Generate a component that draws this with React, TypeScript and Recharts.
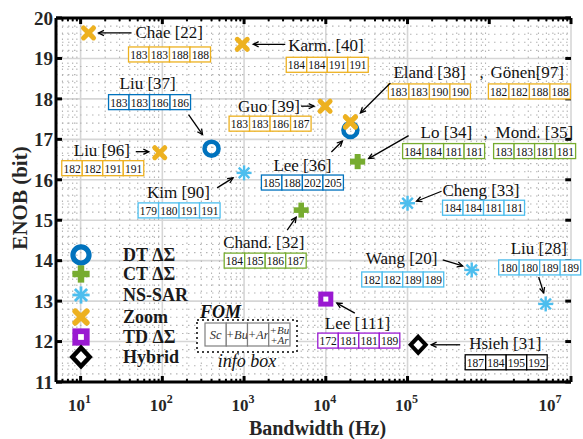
import {
  CartesianGrid,
  Label,
  Legend,
  ReferenceLine,
  Scatter,
  ScatterChart,
  XAxis,
  YAxis,
} from "recharts";

const SERIF = "Liberation Serif, Times New Roman, DejaVu Serif, serif";

// architecture classes, in legend order
const categories = ["DT ΔΣ", "CT ΔΣ", "NS-SAR", "Zoom", "TD ΔΣ", "Hybrid"];
const categoryColors = ["#0072BD", "#77AC30", "#4DBEEE", "#EDB120", "#9A19D1", "#000000"];

const designs = [
  "Chae [22]", "Karm. [40]", "Liu [37]", "Guo [39]", "Liu [96]", "Kim [90]",
  "Lee [36]", "Eland [38]", "Gönen[97]", "Lo [34]", "Mond. [35]", "Chand. [32]",
  "Cheng [33]", "Wang [20]", "Liu [28]", "Lee [111]", "Hsieh [31]",
];
const bandwidthHz = [
  12.5, 950, 400, 9800, 93, 1000, 20000, 20000, 20000, 24500, 24500, 5000,
  100000, 610000, 4.9e6, 10000, 135000,
];
const enobBits = [
  19.63, 19.35, 16.77, 17.82, 16.67, 16.17, 17.23, 17.43, 17.43, 16.45, 16.45, 15.25,
  15.42, 13.77, 12.93, 13.05, 11.92,
];
const designCategory = [3, 3, 0, 3, 3, 2, 0, 3, 3, 1, 1, 1, 2, 2, 2, 4, 5];

// FOM info box columns: Sc, +Bu, +Ar, +Bu+Ar
const fomSc = [183, 184, 183, 183, 182, 179, 185, 183, 182, 184, 183, 184, 184, 182, 180, 172, 187];
const fomBu = [183, 184, 183, 183, 182, 180, 188, 183, 182, 184, 183, 185, 184, 182, 180, 181, 184];
const fomAr = [188, 191, 186, 186, 191, 191, 202, 190, 188, 181, 181, 186, 181, 189, 189, 181, 195];
const fomBuAr = [188, 191, 186, 187, 191, 191, 205, 190, 188, 181, 181, 187, 181, 189, 189, 189, 192];

const xTicks = [10, 100, 1e3, 1e4, 1e5, 1e6, 1e7];
const yTicks = [11, 12, 13, 14, 15, 16, 17, 18, 19, 20];

// annotation placement, pixel offsets from the marker
type Note = { t: number[]; b: number[]; a?: number[]; c?: number[] };
const noteLayout: Note[] = [
  { t: [47, 0], b: [40, 14], a: [43, 0, 10, 0] },
  { t: [46, 1], b: [44, 13], a: [43, 0, 11, 0] },
  { t: [-92, -65], b: [-103, -54], a: [-23, -34, -9, -14] },
  { t: [-87, 0], b: [-96, 10], a: [-24, 0, -11, 0] },
  { t: [-86, -2], b: [-98, 8], a: [-24, -1, -11, -1] },
  { t: [-97, 20], b: [-106, 30], a: [-27, 15, -11, 5] },
  { t: [-77, 35], b: [-89, 45], a: [-19, 22, -8, 11] },
  { t: [43, -49], b: [38, -38], a: [40, -39, 10, -9], c: [129, -49] },
  { t: [140, -49], b: [138, -38] },
  { t: [63, -29], b: [45, -18], a: [51, -26, 11, -3], c: [126, -29] },
  { t: [138, -29], b: [136, -18] },
  { t: [-78, 32], b: [-77, 43], a: [-14, 20, -5, 7] },
  { t: [35, -13], b: [35, -3], a: [34, -12, 9, -2] },
  { t: [-106, -11], b: [-110, 2], a: [-29, -10, -9, -4] },
  { t: [-35, -55], b: [-47, -44], a: [-7, -27, -2, -11] },
  { t: [-1, 24], b: [-8, 34], a: [29, 14, 11, 4] },
  { t: [51, -1], b: [47, 10], a: [42, 0, 13, 0] },
];

const rows = designs.map((name, i) => ({
  name,
  bw: bandwidthHz[i],
  enob: enobBits[i],
  cat: designCategory[i],
  fom: [fomSc[i], fomBu[i], fomAr[i], fomBuAr[i]],
  idx: i,
}));

const xMinor: number[] = [];
for (let k = 0; k < 7; k++) {
  for (let m = 2; m <= 9; m++) {
    const v = m * 10 ** k;
    if (v >= 5 && v < 1e7) xMinor.push(v);
  }
}
const yMinor: number[] = [];
for (let v = 11; v < 20; v++) {
  for (let s = 1; s <= 4; s++) yMinor.push(+(v + s * 0.2).toFixed(1));
}

function Marker({ cx, cy, cat, s = 1 }: { cx: number; cy: number; cat: number; s?: number }) {
  const col = categoryColors[cat];
  if (cat === 0)
    return <circle cx={cx} cy={cy} r={7 * s} fill="none" stroke={col} strokeWidth={4.5 * s} />;
  if (cat === 1)
    return (
      <g fill={col}>
        <rect x={cx - 7.5 * s} y={cy - 2.8 * s} width={15 * s} height={5.6 * s} />
        <rect x={cx - 2.8 * s} y={cy - 7.5 * s} width={5.6 * s} height={15 * s} />
      </g>
    );
  if (cat === 2) {
    const r = 7.5 * s;
    const d = r * 0.7071;
    return (
      <g stroke={col} strokeWidth={2.4 * s}>
        <line x1={cx - r} y1={cy} x2={cx + r} y2={cy} />
        <line x1={cx} y1={cy - r} x2={cx} y2={cy + r} />
        <line x1={cx - d} y1={cy - d} x2={cx + d} y2={cy + d} />
        <line x1={cx - d} y1={cy + d} x2={cx + d} y2={cy - d} />
      </g>
    );
  }
  if (cat === 3) {
    const d = 5 * s;
    return (
      <g stroke={col} strokeWidth={5 * s} strokeLinecap="round">
        <line x1={cx - d} y1={cy - d} x2={cx + d} y2={cy + d} />
        <line x1={cx - d} y1={cy + d} x2={cx + d} y2={cy - d} />
      </g>
    );
  }
  if (cat === 4)
    return (
      <rect x={cx - 5 * s} y={cy - 5 * s} width={10 * s} height={10 * s} fill="#fff" stroke={col} strokeWidth={5 * s} />
    );
  const w = 7.5 * s;
  const h = 8 * s;
  return (
    <polygon
      points={`${cx},${cy - h} ${cx + w},${cy} ${cx},${cy + h} ${cx - w},${cy}`}
      fill="#fff"
      stroke={col}
      strokeWidth={4 * s}
    />
  );
}

function Arrow({ x1, y1, x2, y2 }: { x1: number; y1: number; x2: number; y2: number }) {
  const ang = Math.atan2(y2 - y1, x2 - x1);
  const L = 6;
  const p1 = [x2 - L * Math.cos(ang - 0.45), y2 - L * Math.sin(ang - 0.45)];
  const p2 = [x2 - L * Math.cos(ang + 0.45), y2 - L * Math.sin(ang + 0.45)];
  return (
    <g stroke="#000" strokeWidth={1.3} fill="none">
      <line x1={x1} y1={y1} x2={x2} y2={y2} />
      <polyline points={`${p1[0]},${p1[1]} ${x2},${y2} ${p2[0]},${p2[1]}`} />
    </g>
  );
}

function NoteShape(props: any) {
  const { cx, cy, payload } = props;
  const lay = noteLayout[payload.idx];
  const col = categoryColors[payload.cat];
  const bx = cx + lay.b[0];
  const by = cy + lay.b[1];
  const cw = 20.5;
  return (
    <g style={{ fontFamily: SERIF }}>
      <text x={cx + lay.t[0]} y={cy + lay.t[1]} dominantBaseline="central" fontSize={17} fill="#111">
        {payload.name}
      </text>
      {lay.c && (
        <text x={cx + lay.c[0]} y={cy + lay.c[1]} dominantBaseline="central" fontSize={17} fill="#111">
          ,
        </text>
      )}
      {payload.fom.map((v: number, i: number) => (
        <g key={i}>
          <rect x={bx + i * cw} y={by} width={cw} height={15} fill="#fff" stroke={col} strokeWidth={1.3} />
          <text x={bx + i * cw + cw / 2} y={by + 8} textAnchor="middle" dominantBaseline="central" fontSize={11.5} fill="#111">
            {v}
          </text>
        </g>
      ))}
      {lay.a && <Arrow x1={cx + lay.a[0]} y1={cy + lay.a[1]} x2={cx + lay.a[2]} y2={cy + lay.a[3]} />}
    </g>
  );
}

function PointShape(props: any) {
  return <Marker cx={props.cx} cy={props.cy} cat={props.payload.cat} />;
}

function PowerTick({ x, y, payload }: any) {
  const exp = Math.round(Math.log10(payload.value));
  return (
    <text x={x - 1} y={y + 29} textAnchor="middle" style={{ fontFamily: SERIF }} fontWeight="bold" fontSize={17} fill="#262626">
      10
      <tspan dy={-8} fontSize={12}>
        {exp}
      </tspan>
    </text>
  );
}

function LegendBox() {
  const ys = [25, 44, 65, 87, 107, 127];
  return (
    <svg width={260} height={150} style={{ overflow: "visible", fontFamily: SERIF }}>
      {categories.map((c, i) => (
        <g key={c}>
          <Marker cx={25} cy={ys[i]} cat={i} s={1.15} />
          <text x={67} y={ys[i]} dominantBaseline="central" fontSize={18} fontWeight="bold" fill="#1a1a1a">
            {c}
          </text>
        </g>
      ))}
      <text x={144} y={82} dominantBaseline="central" fontSize={18} fontWeight="bold" fontStyle="italic" fill="#111">
        FOM
      </text>
      <rect x={141} y={90} width={100} height={32} fill="#fff" stroke="#000" strokeWidth={1.5} strokeDasharray="2 3" />
      {["Sc", "+Bu", "+Ar"].map((t, i) => (
        <g key={t}>
          <rect x={149 + i * 21.25} y={93} width={21.25} height={23} fill="#fff" stroke="#7f7f7f" strokeWidth={1.2} />
          <text x={149 + i * 21.25 + 10.6} y={105} textAnchor="middle" dominantBaseline="central" fontSize={12.5} fontStyle="italic" fill="#333">
            {t}
          </text>
        </g>
      ))}
      <rect x={212.75} y={93} width={21.25} height={23} fill="#fff" stroke="#7f7f7f" strokeWidth={1.2} />
      <text x={223.4} y={99.5} textAnchor="middle" dominantBaseline="central" fontSize={11} fontStyle="italic" fill="#333">
        +Bu
      </text>
      <text x={223.4} y={110} textAnchor="middle" dominantBaseline="central" fontSize={11} fontStyle="italic" fill="#333">
        +Ar
      </text>
      <text x={191} y={131} textAnchor="middle" dominantBaseline="central" fontSize={18} fontStyle="italic" fill="#111">
        info box
      </text>
    </svg>
  );
}

export default function App() {
  return (
    <div style={{ width: 583, height: 439, background: "#fff", fontFamily: SERIF }}>
      <style>{"body{margin:0;background:#fff}"}</style>
      <ScatterChart width={583} height={439} margin={{ top: 18, right: 12, bottom: 0, left: 0 }}>
        <CartesianGrid stroke="#d6d6d6" strokeWidth={1.6} />
        {xMinor.map((v) => (
          <ReferenceLine key={`xm${v}`} x={v} stroke="#b5b5b5" strokeWidth={1.1} strokeDasharray="1.5 4.5" />
        ))}
        {yMinor.map((v) => (
          <ReferenceLine key={`ym${v}`} y={v} stroke="#b5b5b5" strokeWidth={1.1} strokeDasharray="1.5 4.5" />
        ))}
        <XAxis
          type="number"
          dataKey="bw"
          scale="log"
          domain={[5, 1e7]}
          ticks={xTicks}
          height={57}
          tick={<PowerTick />}
          tickSize={-6}
          tickMargin={6}
          axisLine={{ stroke: "#000", strokeWidth: 3 }}
          tickLine={{ stroke: "#000", strokeWidth: 3 }}
        >
          <Label
            content={({ viewBox }: any) => (
              <text
                x={viewBox.x + viewBox.width / 2 + 4}
                y={428}
                textAnchor="middle"
                dominantBaseline="central"
                style={{ fontFamily: SERIF }}
                fontWeight="bold"
                fontSize={20}
                fill="#262626"
              >
                Bandwidth (Hz)
              </text>
            )}
          />
        </XAxis>
        <YAxis
          type="number"
          dataKey="enob"
          domain={[11, 20]}
          ticks={yTicks}
          width={56}
          tickSize={-6}
          tickMargin={9}
          tick={{ style: { fontFamily: SERIF }, fontWeight: "bold", fontSize: 19, fill: "#262626" }}
          axisLine={{ stroke: "#000", strokeWidth: 3 }}
          tickLine={{ stroke: "#000", strokeWidth: 3 }}
        >
          <Label
            content={() => (
              <text
                x={20}
                y={198}
                transform="rotate(-90 20 198)"
                textAnchor="middle"
                dominantBaseline="central"
                style={{ fontFamily: SERIF }}
                fontWeight="bold"
                fontSize={21}
                fill="#262626"
              >
                ENOB (bit)
              </text>
            )}
          />
        </YAxis>
        <ReferenceLine y={20} stroke="#000" strokeWidth={3} />
        {xTicks.map((v) => (
          <ReferenceLine key={`tt${v}`} segment={[{ x: v, y: 20 }, { x: v, y: 19.85 }]} stroke="#000" strokeWidth={3} />
        ))}
        {xMinor.map((v) => (
          <ReferenceLine key={`tm${v}`} segment={[{ x: v, y: 20 }, { x: v, y: 19.92 }]} stroke="#000" strokeWidth={2} />
        ))}
        {xMinor.map((v) => (
          <ReferenceLine key={`bm${v}`} segment={[{ x: v, y: 11 }, { x: v, y: 11.08 }]} stroke="#000" strokeWidth={2} />
        ))}
        {yTicks.map((v) => (
          <ReferenceLine key={`rt${v}`} segment={[{ x: 1e7, y: v }, { x: 10 ** 6.93, y: v }]} stroke="#000" strokeWidth={3} />
        ))}
        <Scatter data={rows} shape={<NoteShape />} isAnimationActive={false} />
        <Scatter data={rows} shape={<PointShape />} isAnimationActive={false} />
        <Legend
          layout="horizontal"
          verticalAlign="middle"
          align="center"
          content={() => <LegendBox />}
          wrapperStyle={{ position: "absolute", left: 56, top: 230, width: 260, height: 150 }}
        />
      </ScatterChart>
    </div>
  );
}
